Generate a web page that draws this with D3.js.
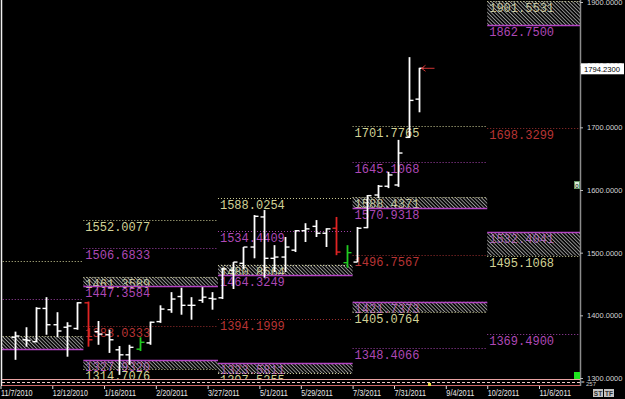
<!DOCTYPE html>
<html>
<head>
<meta charset="utf-8">
<script src="https://cdn.jsdelivr.net/npm/d3@7"></script>
<style>
  body { margin: 0; background: #000; overflow: hidden; }
  svg { display: block; }
</style>
</head>
<body>
<div id="chart"></div>
<script>
// weekly OHLC bars (week starting monday)
let barDates = ["2010-11-15","2010-11-22","2010-11-29","2010-12-06","2010-12-13","2010-12-20","2010-12-27",
  "2011-01-03","2011-01-10","2011-01-17","2011-01-24","2011-01-31","2011-02-07","2011-02-14","2011-02-21",
  "2011-02-28","2011-03-07","2011-03-14","2011-03-21","2011-03-28","2011-04-04","2011-04-11","2011-04-18",
  "2011-04-25","2011-05-02","2011-05-09","2011-05-16","2011-05-23","2011-05-30","2011-06-06","2011-06-13",
  "2011-06-20","2011-06-27","2011-07-04","2011-07-11","2011-07-18","2011-07-25","2011-08-01","2011-08-08","2011-08-15"]
let opens  = [1365,1361,1358,1411,1385,1381,1379,1420,1374,1369,1345,1337,1346,1356,1390,1409,1430,1416,1424,1427,
  1428,1472,1483,1509,1557,1491,1493,1504,1535,1542,1531,1539,1484,1485,1540,1592,1606,1608,1684,1745]
let highs  = [1374,1381,1413,1429,1405,1389,1421,1422,1391,1377,1351,1353,1365,1390,1416,1437,1444,1429,1445,1437,
  1476,1485,1509,1560,1568,1512,1525,1536,1547,1552,1539,1557,1512,1541,1592,1608,1629,1680,1812,1795]
let lows   = [1329,1350,1357,1369,1365,1334,1377,1350,1353,1340,1305,1321,1343,1353,1388,1404,1401,1393,1420,1409,
  1426,1442,1474,1491,1460,1469,1469,1501,1517,1525,1509,1496,1476,1485,1539,1587,1603,1605,1683,1724]
let closes = [1367,1360,1411,1385,1375,1383,1420,1361,1370,1361,1337,1349,1357,1389,1410,1426,1416,1416,1429,1426,
  1474,1485,1509,1558,1491,1493,1509,1535,1538,1531,1538,1501,1500,1539,1591,1606,1624,1659,1743,1794.23]
// w = normal, r = red signal bar, g = green signal bar
let barKind = ["w","w","w","w","w","w","w","r","w","w","w","w","g","w","w","w","w","w","w","w",
  "w","w","w","w","w","w","w","w","w","w","w","r","g","w","w","w","w","w","w","w"]

// quarterly pivot periods
let periodStart = ["2010-10-03","2011-01-02","2011-04-03","2011-07-03","2011-10-02"]
let periodEnd   = ["2011-01-02","2011-04-03","2011-07-03","2011-10-02","2012-01-01"]

// levels: y = outer band, m = inner band, r = pivot
let lvPeriod = [0,0,0,0, 1,1,1,1,1,1,1, 2,2,2,2,2,2,2, 3,3,3,3,3,3,3,3, 4,4,4,4,4,4]
let lvValue  = [1487.3,1426.0,1366.3,1346.6,
  1552.0077,1506.6833,1461.3589,1447.3584,1383.0333,1327.9320,1314.7076,
  1588.0254,1534.4409,1480.8564,1464.3249,1394.1999,1323.5811,1307.5255,
  1701.7765,1645.1068,1588.4371,1570.9318,1496.7567,1421.7373,1405.0764,1348.4066,
  1901.5531,1862.7500,1698.3299,1532.4041,1495.1068,1369.4900]
let lvType   = ["y","m","y","m",
  "y","m","y","m","r","m","y",
  "y","m","y","m","r","m","y",
  "y","m","y","m","r","m","y","m",
  "y","m","r","m","y","m"]

// hatched zones
let zonePeriod = [0,1,1,2,2,3,3,4,4]
let zoneHi = [1366.3,1461.3589,1327.9320,1480.8564,1323.5811,1588.4371,1421.7373,1901.5531,1532.4041]
let zoneLo = [1346.6,1447.3584,1314.7076,1464.3249,1307.5255,1570.9318,1405.0764,1862.7500,1495.1068]

let yTicks = [1300,1400,1500,1600,1700,1800,1900]
let xTicks = ["2010-11-07","2010-12-12","2011-01-16","2011-02-20","2011-03-27","2011-05-01","2011-05-29",
  "2011-07-03","2011-07-31","2011-09-04","2011-10-02","2011-11-06"]
let lastPrice = 1794.23
let markerDate = "2011-08-24"

var W = 625, H = 399
var parse = d3.utcParse("%Y-%m-%d")

var x = d3.scaleUtc()
  .domain([parse("2010-11-07"), parse("2011-11-06")])
  .range([0.5, 539])
var y = d3.scaleLinear().domain([1300, 1900]).range([378, 2])

var svg = d3.select("#chart").append("svg")
  .attr("width", W).attr("height", H)
  .style("background", "#000")

var defs = svg.append("defs")
defs.append("clipPath").attr("id", "plot")
  .append("rect").attr("x", 2).attr("y", 0).attr("width", 578).attr("height", 379)

var pat = defs.append("pattern").attr("id", "hatch")
  .attr("patternUnits", "userSpaceOnUse")
  .attr("width", 2.6).attr("height", 6)
  .attr("patternTransform", "rotate(-45)")
pat.append("line").attr("x1", 0.5).attr("y1", 0).attr("x2", 0.5).attr("y2", 6)
  .attr("stroke", "#a4a4a4").attr("stroke-width", 0.9)

var textCol = {y: "#d2d296", m: "#ae48b6", r: "#b83434"}
var lineCol = {y: "#cfcf98", m: "#a443ac", r: "#9e3030"}

var plot = svg.append("g").attr("clip-path", "url(#plot)")

var zoneKeys = new Set()
zonePeriod.forEach((p, i) => { zoneKeys.add(p + ":" + zoneHi[i]); zoneKeys.add(p + ":" + zoneLo[i]) })

var levels = lvValue.map((v, i) => ({
  v: v, t: lvType[i],
  x0: x(parse(periodStart[lvPeriod[i]])),
  x1: x(parse(periodEnd[lvPeriod[i]])),
  solid: lvType[i] == "m" && zoneKeys.has(lvPeriod[i] + ":" + v)
}))

// level labels (only for periods that start inside the chart)
plot.selectAll("text.lvl")
  .data(levels.filter(d => d.x0 >= 0))
  .join("text")
  .attr("class", "lvl")
  .attr("x", d => d.x0 + 2)
  .attr("y", d => y(d.v) + 11)
  .attr("fill", d => textCol[d.t])
  .style("font-family", "'Liberation Mono', 'DejaVu Sans Mono', monospace")
  .style("font-size", "12px")
  .text(d => d.v.toFixed(4))

// hatched zones
plot.selectAll("rect.zone")
  .data(zonePeriod.map((p, i) => ({p: p, hi: zoneHi[i], lo: zoneLo[i]})))
  .join("rect")
  .attr("class", "zone")
  .attr("x", d => x(parse(periodStart[d.p])))
  .attr("width", d => x(parse(periodEnd[d.p])) - x(parse(periodStart[d.p])))
  .attr("y", d => y(d.hi))
  .attr("height", d => y(d.lo) - y(d.hi))
  .attr("fill", "url(#hatch)")

// level lines
plot.selectAll("line.lvl")
  .data(levels)
  .join("line")
  .attr("class", "lvl")
  .attr("x1", d => d.x0).attr("x2", d => d.x1)
  .attr("y1", d => Math.round(y(d.v)) + 0.5).attr("y2", d => Math.round(y(d.v)) + 0.5)
  .attr("stroke", d => d.solid ? "#b444c4" : lineCol[d.t])
  .attr("stroke-width", d => d.solid ? 1.6 : 1)
  .attr("stroke-dasharray", d => d.solid ? null : "1,2")

// bars
var bars = barDates.map((d, i) => ({d: parse(d), o: opens[i], h: highs[i], l: lows[i], c: closes[i], k: barKind[i]}))
var barCol = {w: "#ffffff", r: "#e02424", g: "#22cc22"}
var bx = d => Math.round(x(d.d) + 3) + 0.5

var bg = plot.selectAll("g.bar").data(bars).join("g").attr("class", "bar")
  .attr("stroke", d => barCol[d.k])
bg.append("line")
  .attr("x1", bx).attr("x2", bx)
  .attr("y1", d => y(d.h)).attr("y2", d => y(d.l))
  .attr("stroke-width", 1.8)
bg.append("line")
  .attr("x1", d => bx(d) - 4).attr("x2", bx)
  .attr("y1", d => y(d.o)).attr("y2", d => y(d.o))
  .attr("stroke-width", 1.4)
bg.append("line")
  .attr("x1", bx).attr("x2", d => bx(d) + 4)
  .attr("y1", d => y(d.c)).attr("y2", d => y(d.c))
  .attr("stroke-width", 1.4)

// red arrow at last bar
var last = bars[bars.length - 1]
var ax = bx(last) + 2, ay = y(last.c)
plot.append("path")
  .attr("d", `M${ax},${ay}L${ax + 13},${ay}M${ax + 4},${ay - 3}L${ax},${ay}L${ax + 4},${ay + 3}`)
  .attr("stroke", "#d03434").attr("fill", "none").attr("stroke-width", 1)

// frame lines
svg.append("line").attr("x1", 1.5).attr("x2", 1.5).attr("y1", 0).attr("y2", 386)
  .attr("stroke", "#f0f0f0").attr("stroke-width", 1.5)
svg.append("line").attr("x1", 580.5).attr("x2", 580.5).attr("y1", 0).attr("y2", 386)
  .attr("stroke", "#8c8c8c").attr("stroke-width", 1.5)

svg.append("line").attr("x1", 2).attr("x2", 580).attr("y1", 379.5).attr("y2", 379.5)
  .attr("stroke", "#eaa4a4").attr("stroke-width", 1.2)
svg.append("line").attr("x1", 2).attr("x2", 580).attr("y1", 382.5).attr("y2", 382.5)
  .attr("stroke", "#f0c8c8").attr("stroke-dasharray", "3,2")
svg.append("line").attr("x1", 2).attr("x2", 580).attr("y1", 385.5).attr("y2", 385.5)
  .attr("stroke", "#d06a6a").attr("stroke-width", 1.2)

// y axis
var yAxis = svg.append("g").attr("transform", "translate(580,0)")
  .call(d3.axisRight(y).tickValues(yTicks).tickSize(3).tickFormat(d3.format(".4f")))
yAxis.select(".domain").remove()
yAxis.selectAll("line").attr("stroke", "#bbbbbb")
yAxis.selectAll("text")
  .attr("x", 7)
  .attr("fill", "#d4d4d4")
  .style("font-family", "'Liberation Sans', Arial, sans-serif")
  .style("font-size", "7.5px")

// x axis
var xAxis = svg.append("g").attr("transform", "translate(0,386)")
  .call(d3.axisBottom(x).tickValues(xTicks.map(parse)).tickSize(3).tickFormat(d3.utcFormat("%-m/%-d/%Y")))
xAxis.select(".domain").remove()
xAxis.selectAll("line").attr("stroke", "#dddddd")
xAxis.selectAll("text")
  .attr("text-anchor", "start")
  .attr("y", 10).attr("dy", 0)
  .attr("fill", "#e8e8e8")
  .style("font-family", "'Liberation Sans', Arial, sans-serif")
  .style("font-size", "9px")
  .attr("lengthAdjust", "spacingAndGlyphs")
  .attr("textLength", function() { return this.textContent.length * 3.5 })

// date marker
svg.append("rect").attr("x", x(parse(markerDate)) - 1.5).attr("y", 383).attr("width", 3).attr("height", 3)
  .attr("fill", "#e8e040")

// last price box
var py = y(lastPrice)
svg.append("rect").attr("x", 581).attr("y", py - 5).attr("width", 43).attr("height", 11)
  .attr("fill", "#ffffff")
svg.append("text").attr("x", 584).attr("y", py + 3.5)
  .attr("fill", "#000")
  .style("font-family", "'Liberation Sans', Arial, sans-serif")
  .style("font-size", "8px")
  .attr("lengthAdjust", "spacingAndGlyphs").attr("textLength", 36)
  .text(lastPrice.toFixed(4))

// small widgets
svg.append("rect").attr("x", 574.5).attr("y", 181.5).attr("width", 5).attr("height", 7)
  .attr("fill", "#d8ecd8").attr("stroke", "#6a9a6a")
svg.append("text").attr("x", 577).attr("y", 187.5).attr("text-anchor", "middle")
  .style("font-family", "'Liberation Sans', sans-serif").style("font-size", "6px").attr("fill", "#000").text("0")
svg.append("rect").attr("x", 574).attr("y", 372).attr("width", 6).attr("height", 7).attr("fill", "#1ee41e")
svg.append("text").attr("x", 586).attr("y", 386)
  .style("font-family", "'Liberation Sans', sans-serif").style("font-size", "6px").attr("fill", "#cccccc").text("257")
svg.append("text").attr("x", 581).attr("y", 384)
  .style("font-family", "'Liberation Sans', sans-serif").style("font-size", "6px").attr("fill", "#cccccc").text("=")

var btn = svg.append("g").style("font-family", "'Liberation Sans', sans-serif").style("font-size", "6.5px")
  .style("font-weight", "bold")
;["ST", "TF"].forEach((t, i) => {
  btn.append("rect").attr("x", 593 + i * 11).attr("y", 389).attr("width", 10).attr("height", 8).attr("fill", "#c4c4c4")
  btn.append("text").attr("x", 598 + i * 11).attr("y", 395.5).attr("text-anchor", "middle").attr("fill", "#333").text(t)
})
</script>
</body>
</html>
